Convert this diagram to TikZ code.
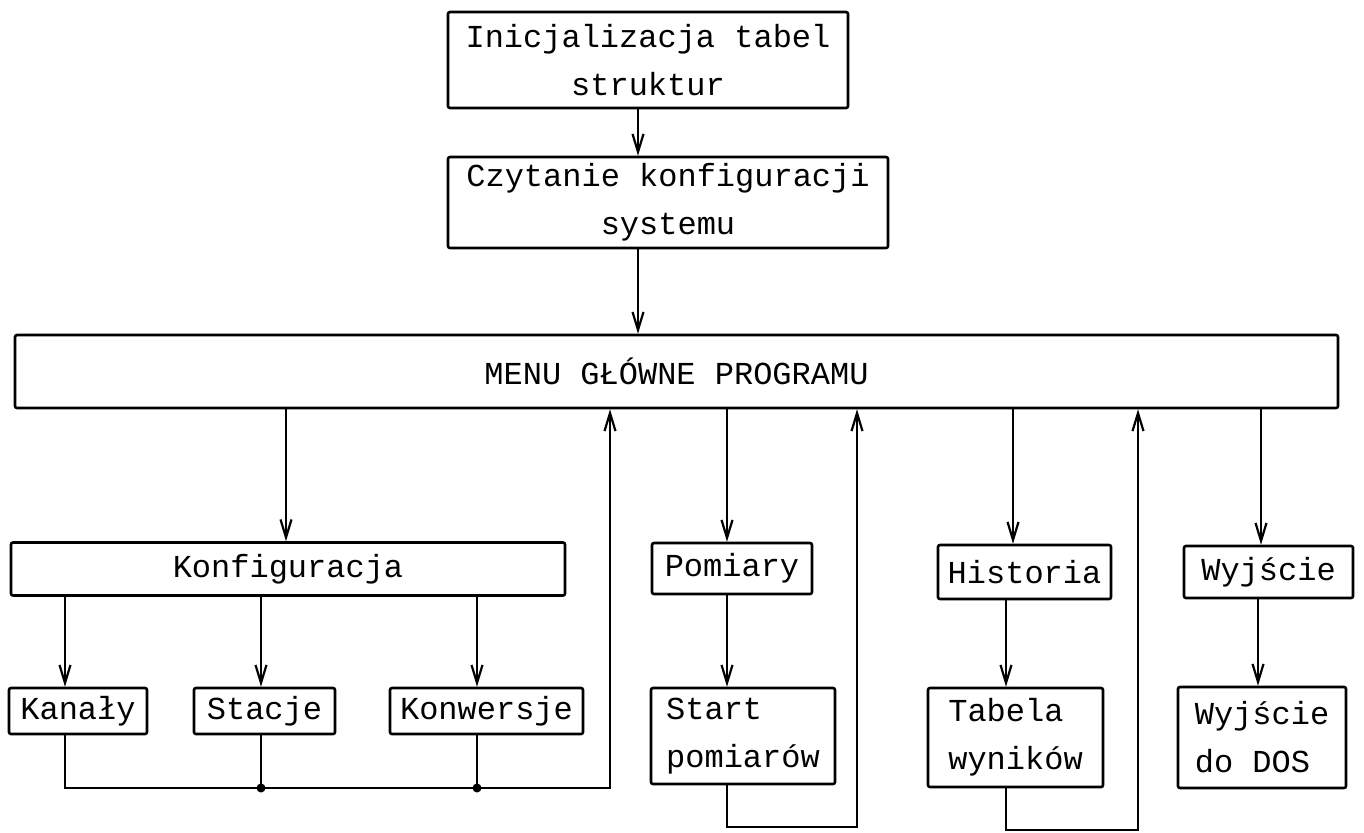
\documentclass[tikz,border=0pt]{standalone}
\usepackage{fontspec}
\setmonofont{Liberation Mono}
\usepackage{tikz}
\usetikzlibrary{arrows.meta,positioning}
\tikzset{
    %Define standard arrow tip
    >={Straight Barb[length=9pt,width=5.5pt,line width=1.1pt]},
    %Define style for boxes
    blok/.style={
           rectangle,
           rounded corners=1pt,
           draw=black, line width=1.3pt,
           inner sep=0pt,
           font=\ttfamily\fontsize{16}{24}\selectfont,
           text centered},
    blokl/.style={
           blok,
           align=left},
    blokc/.style={
           blok,
           align=center},
    % Define arrow style
    pil/.style={
           ->,
           line width=0.6pt},
    lin/.style={
           line width=0.6pt},
    kropka/.style={
           circle, fill=black, inner sep=0pt, minimum size=4.5pt}
}
\begin{document}
\begin{tikzpicture}[x=0.5pt,y=-0.5pt]
\useasboundingbox (0,0) rectangle (1364,832);
\node[blokc, minimum width=200pt, minimum height=48pt] (init) at (648,60)
    {Inicjalizacja tabel\\struktur};
\node[blokc, minimum width=220pt, minimum height=45.5pt] (czyt) at (668,202.5)
    {Czytanie konfiguracji\\systemu};
\node[blok, minimum width=661.5pt, minimum height=36.5pt] (menu) at (676.5,371.5)
    {MENU GŁÓWNE PROGRAMU};
\node[blok, minimum width=277pt, minimum height=26.5pt] (konf) at (288,569) {Konfiguracja};
\node[blok, minimum width=80pt, minimum height=25.5pt] (pom) at (732,568.5) {Pomiary};
\node[blok, minimum width=86.5pt, minimum height=27pt] (hist) at (1024.5,572) {Historia};
\node[blok, minimum width=84.5pt, minimum height=26pt] (wyj) at (1268.5,572) {Wyjście};
\node[blok, minimum width=69pt, minimum height=23pt] (kan) at (78,711) {Kanały};
\node[blok, minimum width=70.5pt, minimum height=23pt] (sta) at (264.5,711) {Stacje};
\node[blok, minimum width=96.5pt, minimum height=23pt] (konw) at (486.5,711) {Konwersje};
\node[blokl, minimum width=92pt, minimum height=48pt] (start) at (743,736)
    {Start\\pomiarów};
\node[blokl, minimum width=87.5pt, minimum height=49.5pt] (tab) at (1015.5,737.5)
    {Tabela\\wyników};
\node[blokl, minimum width=84pt, minimum height=50.5pt] (dos) at (1262,737.5)
    {Wyjście\\do DOS};
% columns of the connectors
\coordinate (cA) at (638,0);
\coordinate (cKonf) at (286,0);
\coordinate (cPom) at (727,0);
\coordinate (cHist) at (1013,0);
\coordinate (cTab) at (1006,0);
\coordinate (cWyj) at (1261,0);
\coordinate (cDos) at (1258,0);
\coordinate (cKan) at (65,0);
\coordinate (cSta) at (261,0);
\coordinate (cKonw) at (477,0);
\coordinate (bus) at (610,788);
\coordinate (petlaA) at (857,827);
\coordinate (petlaB) at (1138,830);
\draw[pil] (init.south -| cA) -- (czyt.north -| cA);
\draw[pil] (czyt.south -| cA) -- (menu.north -| cA);
\draw[pil] (menu.south -| cKonf) -- (konf.north -| cKonf);
\draw[pil] (menu.south -| cPom) -- (pom.north -| cPom);
\draw[pil] (menu.south -| cHist) -- (hist.north -| cHist);
\draw[pil] (menu.south -| cWyj) -- (wyj.north -| cWyj);
\draw[pil] (konf.south -| cKan) -- (kan.north -| cKan);
\draw[pil] (konf.south -| cSta) -- (sta.north -| cSta);
\draw[pil] (konf.south -| cKonw) -- (konw.north -| cKonw);
\draw[pil] (pom.south -| cPom) -- (start.north -| cPom);
\draw[pil] (hist.south -| cTab) -- (tab.north -| cTab);
\draw[pil] (wyj.south -| cDos) -- (dos.north -| cDos);
% returns to the menu
\draw[pil] (kan.south -| cKan) |- (bus) -- (menu.south -| bus);
\draw[lin] (sta.south -| cSta) -- (bus -| cSta) node[kropka]{};
\draw[lin] (konw.south -| cKonw) -- (bus -| cKonw) node[kropka]{};
\draw[pil] (start.south -| cPom) |- (petlaA) -- (menu.south -| petlaA);
\draw[pil] (tab.south -| cTab) |- (petlaB) -- (menu.south -| petlaB);
\end{tikzpicture}
\end{document}
